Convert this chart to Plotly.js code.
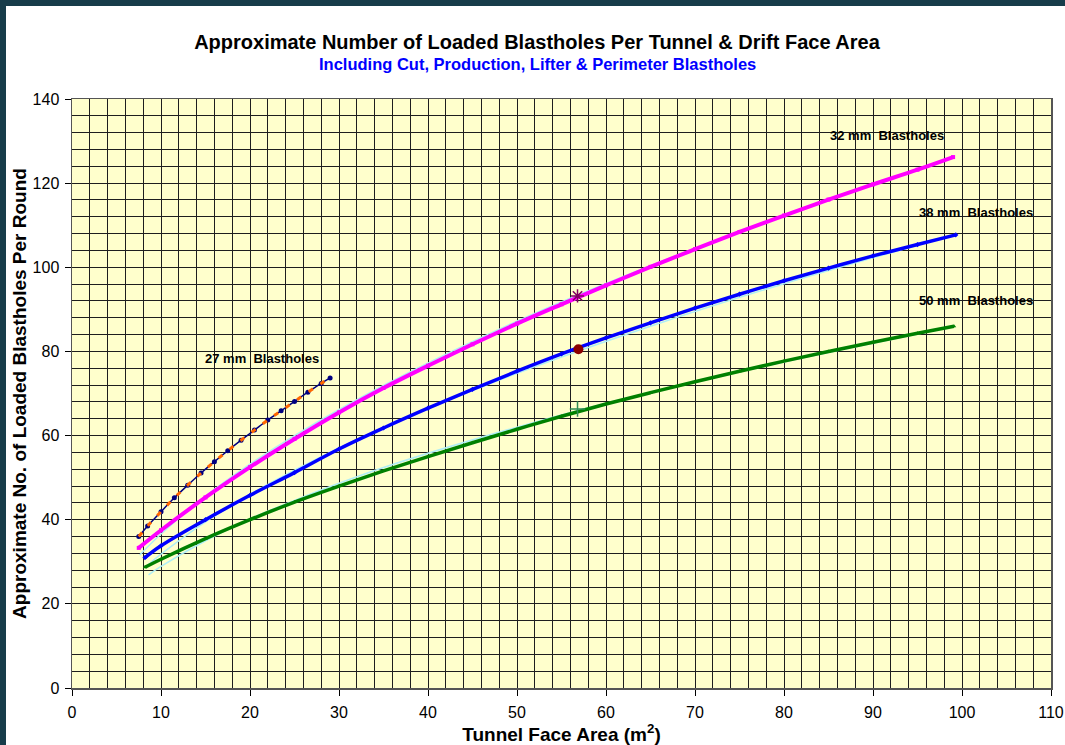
<!DOCTYPE html>
<html>
<head>
<meta charset="utf-8">
<script src="https://cdn.plot.ly/plotly-3.0.1.min.js"></script>
<style>
  html, body { margin: 0; padding: 0; width: 1065px; height: 745px; overflow: hidden; background: #ffffff; }
  #frame { position: absolute; left: 0; top: 0; width: 1065px; height: 745px; box-sizing: border-box;
           border-left: 6px solid #173c4a; border-top: 6px solid #173c4a; background: #ffffff; }
  #chart { width: 1059px; height: 739px; }
</style>
</head>
<body>
<div id="frame"><div id="chart"></div></div>
<script>
// ---- Data ----
const x27 = [7.5, 8.5, 10, 11.5, 13, 14.5, 16, 17.5, 19, 20.5, 22, 23.5, 25, 26.5, 28, 29];
const y27 = [36.0, 38.5, 41.9, 45.2, 48.2, 51.1, 53.8, 56.4, 58.9, 61.3, 63.7, 65.9, 68.1, 70.3, 72.4, 73.7];

const x32 = [7.5, 10, 15, 20, 25, 30, 35, 40, 45, 50, 55, 60, 65, 70, 75, 80, 85, 90, 95, 99];
const y32 = [33.3, 37.5, 45.3, 52.5, 59.2, 65.5, 71.3, 76.6, 81.7, 86.6, 91.2, 95.7, 100.1, 104.3, 108.4, 112.3, 116.1, 119.7, 123.2, 126.2];

const x38 = [8.2, 10, 15, 20, 25, 30, 35, 40, 45, 50, 55, 60, 65, 70, 75, 80, 85, 90, 95, 99.3];
const y38 = [31.0, 33.8, 40.0, 45.8, 51.2, 56.8, 61.8, 66.5, 71.0, 75.3, 79.4, 83.2, 86.8, 90.3, 93.6, 96.8, 99.8, 102.7, 105.4, 107.7];

const x50 = [8.2, 10, 15, 20, 25, 30, 35, 40, 45, 50, 55, 60, 65, 70, 75, 80, 85, 90, 95, 99.1];
const y50 = [28.7, 30.6, 35.5, 40.0, 44.2, 48.0, 51.6, 55.0, 58.3, 61.5, 64.6, 67.5, 70.2, 72.8, 75.3, 77.7, 80.0, 82.2, 84.3, 86.0];

// trendlines (thin light lines alongside each curve)
const xT32 = [7.6, 10, 15, 20, 25, 35, 50, 65, 80, 97.8];
const yT32 = [31.6, 36.6, 45.6, 53.2, 60.0, 71.9, 87.2, 100.4, 112.3, 125.1];
const xT38 = [8.4, 10, 15, 20, 25, 35, 50, 65, 80, 97.8];
const yT38 = [29.0, 31.8, 39.5, 46.0, 51.8, 61.9, 74.8, 86.0, 96.1, 106.9];
const xT50 = [8.6, 10, 15, 20, 25, 35, 50, 65, 80, 97.8];
const yT50 = [26.9, 28.9, 35.0, 40.2, 44.6, 52.4, 62.0, 70.3, 77.5, 85.3];

// single highlighted points at ~57 m2
const ptX = [56.8, 56.9, 56.8];
const ptY = [93.2, 80.5, 66.3];

// labels
const labelText = ["27 mm\u00a0\u00a0Blastholes", "32 mm\u00a0\u00a0Blastholes", "38 mm\u00a0\u00a0Blastholes", "50 mm\u00a0\u00a0Blastholes"];
const labelX = [21.4, 91.6, 101.6, 101.6];
const labelY = [78.4, 131.4, 113.1, 92.0];

const FONT = "Arial, 'Liberation Sans', Helvetica, sans-serif";
const trendColor = "#aeeef6";

const traces = [
  {x: xT32, y: yT32, mode: "lines", line: {color: trendColor, width: 1.5, shape: "spline"}, hoverinfo: "skip"},
  {x: xT38, y: yT38, mode: "lines", line: {color: trendColor, width: 1.5, shape: "spline"}, hoverinfo: "skip"},
  {x: xT50, y: yT50, mode: "lines", line: {color: trendColor, width: 1.5, shape: "spline"}, hoverinfo: "skip"},
  {x: x32, y: y32, mode: "lines+markers", name: "32 mm", line: {color: "#ff00ff", width: 4, shape: "spline"},
   marker: {color: "#ff00ff", size: 4, symbol: "square"}},
  {x: x38, y: y38, mode: "lines+markers", name: "38 mm", line: {color: "#0000ff", width: 3.5, shape: "spline"},
   marker: {color: "#0000ff", size: 4, symbol: "diamond"}},
  {x: x50, y: y50, mode: "lines+markers", name: "50 mm", line: {color: "#008000", width: 3.5, shape: "spline"},
   marker: {color: "#008000", size: 4, symbol: "triangle-up"}},
  {x: x27, y: y27, mode: "lines+markers", name: "27 mm", line: {color: "#000080", width: 1.5, shape: "spline"},
   marker: {color: "#000080", size: 5, symbol: "circle"}},
  {x: x27, y: y27, mode: "lines", name: "27 mm trend", line: {color: "#ff6600", width: 3, dash: "5px,9px", shape: "spline"}, hoverinfo: "skip"},
  {x: [ptX[0]], y: [ptY[0]], mode: "markers",
   marker: {symbol: "asterisk-open", size: 11, color: "#800060", line: {color: "#800060", width: 1.5}}},
  {x: [ptX[1]], y: [ptY[1]], mode: "markers", marker: {symbol: "circle", size: 10, color: "#8b0000"}},
  {x: [ptX[2]], y: [ptY[2]], mode: "markers",
   marker: {symbol: "cross-thin-open", size: 11, color: "#2e8b57", line: {color: "#2e8b57", width: 1.5}}}
];

const annotations = labelText.map((t, i) => ({
  x: labelX[i], y: labelY[i], xref: "x", yref: "y", text: "<b>" + t + "</b>", showarrow: false,
  font: {family: FONT, size: 13, color: "#000000"}, xanchor: "center", yanchor: "middle"
}));
annotations.push({
  xref: "paper", yref: "paper", x: 0.475, y: 1.0594, showarrow: false,
  text: "<b>Including Cut, Production, Lifter &amp; Perimeter Blastholes</b>",
  font: {family: FONT, size: 16.5, color: "#0000ff"}, xanchor: "center", yanchor: "middle"
});

const layout = {
  width: 1059, height: 739,
  margin: {l: 66, r: 14, t: 93, b: 57},
  paper_bgcolor: "#ffffff",
  plot_bgcolor: "#ffffcc",
  showlegend: false,
  font: {family: FONT, color: "#000000"},
  title: {
    text: "Approximate Number of Loaded Blastholes Per Tunnel & Drift Face Area",
    font: {family: FONT, size: 20, color: "#000000", weight: 700},
    x: 0.5014, xanchor: "center", xref: "container",
    y: 0.951, yanchor: "middle", yref: "container"
  },
  xaxis: {
    range: [0, 110], dtick: 10, tick0: 0,
    showgrid: true, gridcolor: "#1e1e1e", gridwidth: 1,
    minor: {dtick: 2, showgrid: true, gridcolor: "#1e1e1e", gridwidth: 1},
    zeroline: false,
    showline: true, linecolor: "#555555", linewidth: 1.5, mirror: true,
    ticks: "outside", ticklen: 6, tickcolor: "#000000",
    ticklabelstandoff: 3,
    tickfont: {family: FONT, size: 16, color: "#000000"},
    title: {text: "<b>Tunnel Face Area (m<sup>2</sup>)</b>", font: {family: FONT, size: 19, color: "#000000"}, standoff: 4}
  },
  yaxis: {
    range: [0, 140], dtick: 20, tick0: 0,
    showgrid: true, gridcolor: "#1e1e1e", gridwidth: 1,
    minor: {dtick: 4, showgrid: true, gridcolor: "#1e1e1e", gridwidth: 1},
    zeroline: false,
    showline: true, linecolor: "#555555", linewidth: 1.5, mirror: true,
    ticks: "outside", ticklen: 6, tickcolor: "#000000",
    ticklabelstandoff: 2,
    tickfont: {family: FONT, size: 16, color: "#000000"},
    title: {text: "<b>Approximate No. of Loaded Blastholes Per Round</b>", font: {family: FONT, size: 19, color: "#000000"}, standoff: 1}
  },
  annotations: annotations
};

Plotly.newPlot("chart", traces, layout, {displayModeBar: false, staticPlot: true});
</script>
</body>
</html>
